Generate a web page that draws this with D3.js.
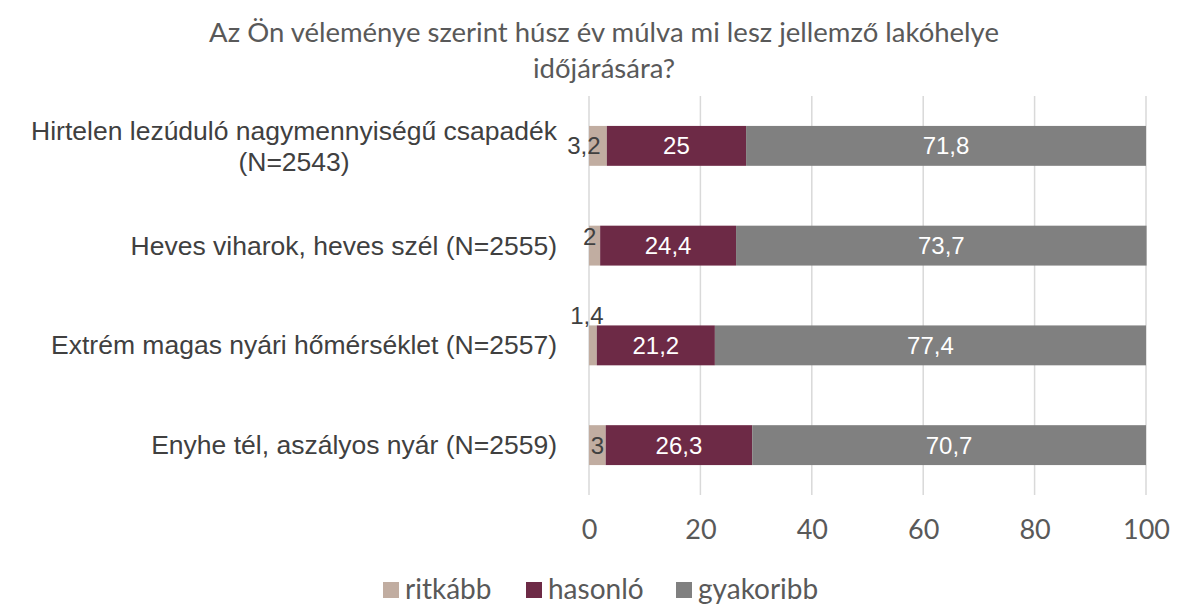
<!DOCTYPE html>
<html>
<head>
<meta charset="utf-8" />
<title>Időjárás húsz év múlva</title>
<style>
  body { margin: 0; background: #fff; }
  .title, .tick text, .legend text { font-family: Lato, "Open Sans", sans-serif; fill: #595959; }
  .cat, .val { font-family: "Liberation Sans", Arial, sans-serif; }
</style>
</head>
<body>
<script src="https://d3js.org/d3.v7.min.js"></script>
<script>
var categories = [
    ["Hirtelen lezúduló nagymennyiségű csapadék", "(N=2543)"],
    ["Heves viharok, heves szél (N=2555)"],
    ["Extrém magas nyári hőmérséklet (N=2557)"],
    ["Enyhe tél, aszályos nyár (N=2559)"]
];
var seriesNames = ["ritkább", "hasonló", "gyakoribb"];
var ritkabb   = [3.2, 2, 1.4, 3];
var hasonlo   = [25, 24.4, 21.2, 26.3];
var gyakoribb = [71.8, 73.7, 77.4, 70.7];
var xTicks = [0, 20, 40, 60, 80, 100];
var colors = ["#c1ada1", "#6d2a46", "#808080"];

var width = 1177, height = 610;
var svg = d3.select("body").append("svg")
    .attr("width", width)
    .attr("height", height);

var x = d3.scaleLinear().domain([0, 100]).range([589, 1146]);
var y = d3.scaleBand().domain(d3.range(categories.length)).range([96, 495]).paddingInner(0.6).paddingOuter(0.3);

// title
svg.append("text").attr("class", "title")
    .attr("x", 604).attr("y", 42)
    .attr("text-anchor", "middle")
    .style("font-size", "27.5px")
    .selectAll("tspan")
    .data(["Az Ön véleménye szerint húsz év múlva mi lesz jellemző lakóhelye", "időjárására?"])
    .join("tspan")
    .attr("x", 604)
    .attr("dy", (d, i) => i ? 36 : 0)
    .text(d => d);

// grid
svg.append("g").selectAll("line")
    .data(xTicks)
    .join("line")
    .attr("x1", d => x(d)).attr("x2", d => x(d))
    .attr("y1", 96).attr("y2", 495)
    .attr("stroke", "#d9d9d9").attr("stroke-width", 1.5);

var axis = svg.append("g")
    .attr("transform", "translate(0,495)")
    .call(d3.axisBottom(x).tickValues(xTicks).tickSize(0).tickPadding(25));
axis.select(".domain").remove();
axis.selectAll("text").style("font-size", "27px").attr("fill", "#595959");

// stacked data
var rows = categories.map((c, i) => {
    var vals = [ritkabb[i], hasonlo[i], gyakoribb[i]];
    var x0 = 0;
    return vals.map((v, k) => { var seg = {i: i, k: k, v: v, x0: x0, x1: x0 + v}; x0 += v; return seg; });
});
var segs = rows.flat();

svg.append("g").selectAll("rect")
    .data(segs)
    .join("rect")
    .attr("x", d => x(d.x0))
    .attr("width", d => x(d.x1) - x(d.x0))
    .attr("y", d => y(d.i))
    .attr("height", y.bandwidth())
    .attr("fill", d => colors[d.k]);

// value labels (small ones nudged like in the original)
var nudge = [[-14, 0], [-5, -9], [-6, -30], [0, 0]];
svg.append("g").selectAll("text")
    .data(segs)
    .join("text")
    .attr("class", "val")
    .attr("x", d => (x(d.x0) + x(d.x1)) / 2 + (d.k === 0 ? nudge[d.i][0] : 0))
    .attr("y", d => y(d.i) + y.bandwidth() / 2 + 8.5 + (d.k === 0 ? nudge[d.i][1] : 0))
    .attr("text-anchor", "middle")
    .style("font-size", "24px")
    .attr("fill", d => d.k === 0 ? "#404040" : "#fff")
    .text(d => String(d.v).replace(".", ","));

// category labels
var cat = svg.append("g").selectAll("text")
    .data(categories)
    .join("text")
    .attr("class", "cat")
    .attr("fill", "#404040")
    .attr("text-anchor", "middle")
    .style("font-size", "26.5px")
    .attr("y", (d, i) => y(i) + y.bandwidth() / 2 + 9 - (d.length - 1) * 15);
cat.each(function(d) {
    var t = d3.select(this);
    var spans = t.selectAll("tspan").data(d).join("tspan").text(s => s);
    var w = d3.max(spans.nodes(), n => n.getComputedTextLength());
    // lines are centred on each other, block right-aligned to the axis
    spans.attr("x", 557 - w / 2).attr("dy", (s, j) => j ? 31 : 0);
});

// legend
var legX = [383, 526, 676];
var leg = svg.append("g").attr("class", "legend").selectAll("g")
    .data(seriesNames)
    .join("g")
    .attr("transform", (d, i) => "translate(" + legX[i] + ",582)");
leg.append("rect").attr("width", 16).attr("height", 16).attr("fill", (d, i) => colors[i]);
leg.append("text").attr("x", 22).attr("y", 17).style("font-size", "28px").text(d => d);
</script>
</body>
</html>
